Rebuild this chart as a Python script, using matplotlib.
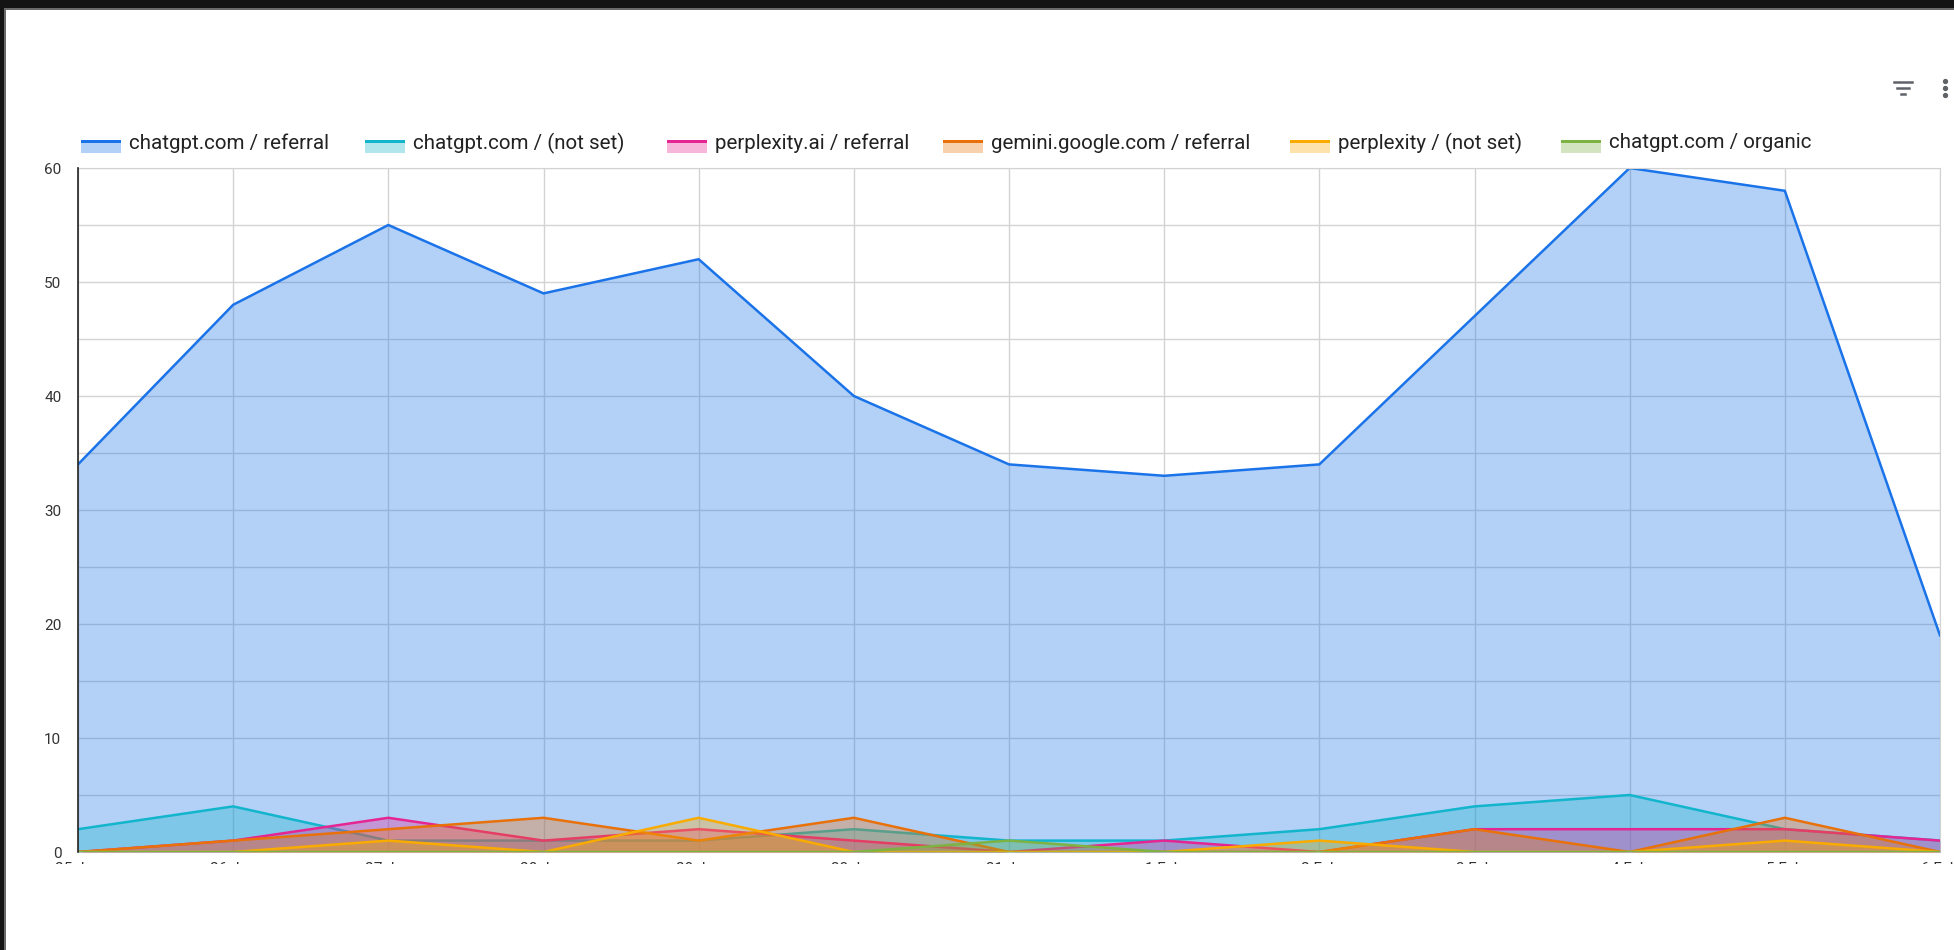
import matplotlib
matplotlib.use("Agg")
import matplotlib.pyplot as plt
from matplotlib.patches import Rectangle
from matplotlib.lines import Line2D

plt.rcParams['font.family'] = ['Roboto', 'DejaVu Sans']

# data
dates = ['25 Jan', '26 Jan', '27 Jan', '28 Jan', '29 Jan', '30 Jan', '31 Jan',
         '1 Feb', '2 Feb', '3 Feb', '4 Feb', '5 Feb', '6 Feb']
chatgpt_referral = [34, 48, 55, 49, 52, 40, 34, 33, 34, 47, 60, 58, 19]
chatgpt_notset = [2, 4, 1, 1, 1, 2, 1, 1, 2, 4, 5, 2, 1]
perplexity_ai_referral = [0, 1, 3, 1, 2, 1, 0, 1, 0, 2, 2, 2, 1]
gemini_referral = [0, 1, 2, 3, 1, 3, 0, 0, 0, 2, 0, 3, 0]
perplexity_notset = [0, 0, 1, 0, 3, 0, 0, 0, 1, 0, 0, 1, 0]
chatgpt_organic = [0, 0, 0, 0, 0, 0, 1, 0, 0, 0, 0, 0, 0]

series_names = ['chatgpt.com / referral', 'chatgpt.com / (not set)',
                'perplexity.ai / referral', 'gemini.google.com / referral',
                'perplexity / (not set)', 'chatgpt.com / organic']
series_values = [chatgpt_referral, chatgpt_notset, perplexity_ai_referral,
                 gemini_referral, perplexity_notset, chatgpt_organic]
colors = ['#1a73e8', '#12b5cb', '#e52592', '#e8710a', '#f9ab00', '#7cb342']

W, H = 1954, 950
fig = plt.figure(figsize=(W / 100, H / 100), dpi=100)


def fx(px):
    return px / W


def fy(py):
    # py measured from the top of the image
    return 1 - py / H


left, right, top, bottom = 78, 1940, 168, 852
ax = fig.add_axes([fx(left), fy(bottom), fx(right - left), (bottom - top) / H])

x = list(range(len(dates)))
for i, (name, vals, c) in enumerate(zip(series_names, series_values, colors)):
    ax.fill_between(x, vals, 0, color=c, alpha=0.33, linewidth=0, zorder=2 + i)
    ax.plot(x, vals, color=c, linewidth=1.8, zorder=2.5 + i, solid_joinstyle='miter')

ax.set_xlim(0, len(dates) - 1)
ax.set_ylim(0, 60)
ax.set_xticks(x)
ax.set_xticklabels(dates)
ax.set_yticks(range(0, 61, 10))
ax.set_yticks(range(5, 60, 10), minor=True)
ax.set_axisbelow(True)
ax.grid(True, which='both', color='#d3d3d3', linewidth=1)
ax.tick_params(axis='both', which='both', length=0, labelsize=11, colors='#333333')
ax.tick_params(axis='x', pad=7)
ax.tick_params(axis='y', pad=12)
for sp in ['top', 'right', 'bottom']:
    ax.spines[sp].set_color('#d3d3d3')
ax.spines['left'].set_color('#222222')
ax.spines['left'].set_linewidth(1.2)
ax.spines['left'].set_zorder(20)

# legend drawn across the top
leg_x = [81, 365, 667, 943, 1290, 1561]
for lx, name, c in zip(leg_x, series_names, colors):
    fig.add_artist(Rectangle((fx(lx), fy(153)), fx(40), 10 / H, facecolor=c,
                             alpha=0.33, edgecolor='none'))
    fig.add_artist(Rectangle((fx(lx), fy(143)), fx(40), 3 / H, facecolor=c,
                             edgecolor='none'))
    fig.text(fx(lx + 48), fy(143), name, fontsize=14.8, color='#222222',
             va='center', ha='left')

# filter and menu icons at top right
for yy, half in [(82, 9), (88, 6), (94, 2)]:
    fig.add_artist(Line2D([fx(1903 - half), fx(1903 + half)], [fy(yy), fy(yy)],
                          color='#5f6368', linewidth=1.8))
for yy in [81, 88, 95]:
    fig.add_artist(Line2D([fx(1945)], [fy(yy)], marker='o', markersize=2.8,
                          color='#5f6368', linestyle='none'))

# bottom of the tick labels is cut off in the screenshot
fig.add_artist(Rectangle((0, 0), 1, fy(864), facecolor='white',
                         edgecolor='none', zorder=5))

# dark screenshot frame on top and left
fig.add_artist(Rectangle((0, fy(8)), 1, 8 / H, facecolor='#141414',
                         edgecolor='none', zorder=6))
fig.add_artist(Rectangle((0, fy(10)), 1, 2 / H, facecolor='#6a6a6a',
                         edgecolor='none', zorder=6))
fig.add_artist(Rectangle((0, 0), fx(4), 1, facecolor='#141414',
                         edgecolor='none', zorder=7))
fig.add_artist(Rectangle((fx(4), 0), fx(2), fy(8), facecolor='#6a6a6a',
                         edgecolor='none', zorder=7))

fig.savefig('out.png', dpi=100, facecolor='white')
